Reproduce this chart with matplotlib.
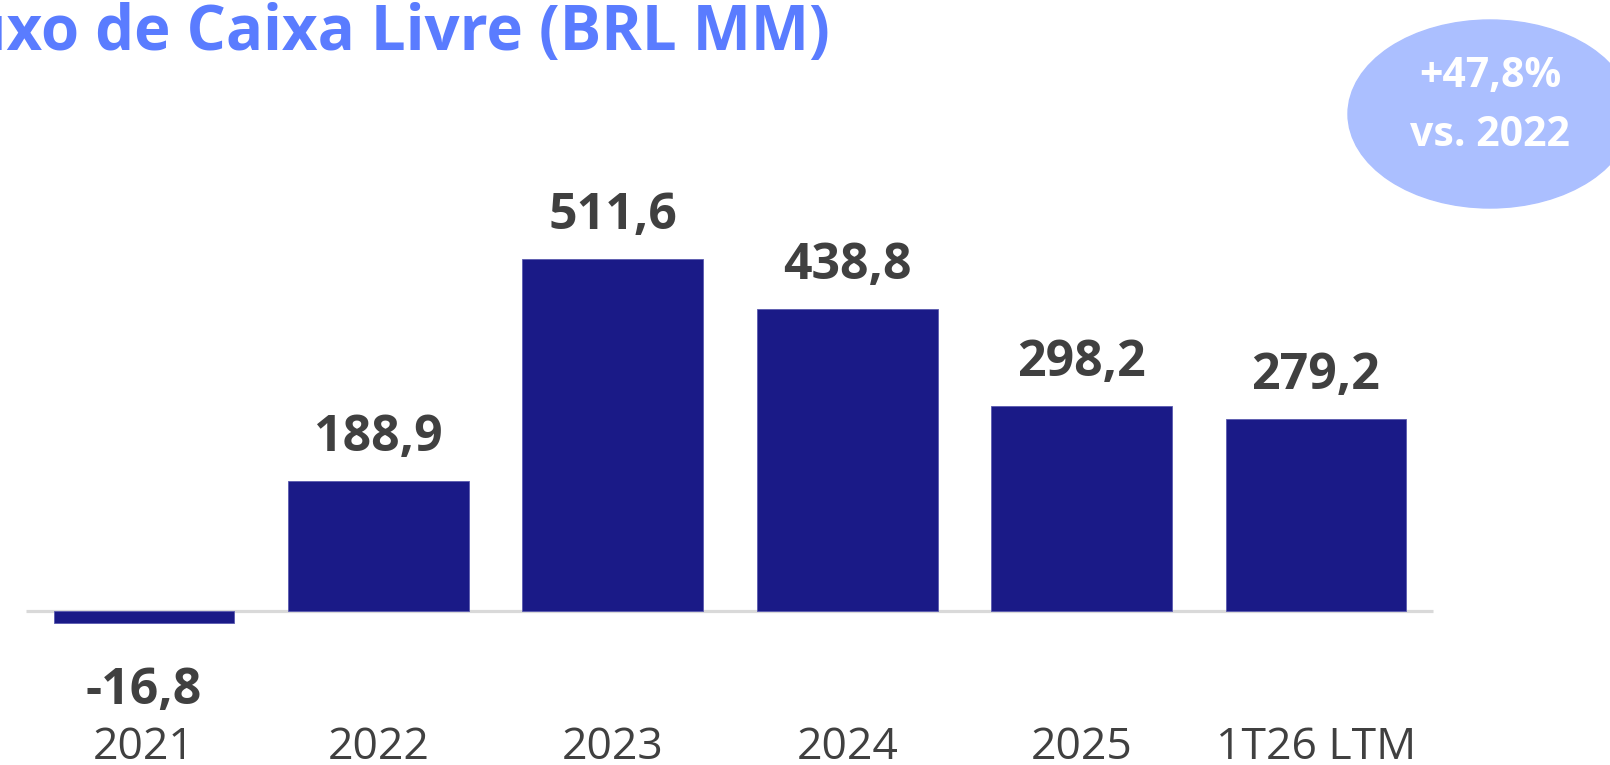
import numpy as np
import matplotlib
matplotlib.use('Agg')
import matplotlib.pyplot as plt
from matplotlib.patches import Ellipse
from matplotlib import rcParams
rcParams['font.family'] = ['Open Sans', 'DejaVu Sans']

categories = ['2021', '2022', '2023', '2024', '2025', '1T26 LTM']
values = [-16.8, 188.9, 511.6, 438.8, 298.2, 279.2]
title = 'Fluxo de Caixa Livre (BRL MM)'
badge = ['+47,8%', 'vs. 2022']

bar_color = '#1a1a87'
label_color = '#404040'

W, H = 1610, 765
fig = plt.figure(figsize=(W / 100, H / 100), dpi=100)
ax = fig.add_axes([0, 0, 1, 1])

# pixel layout -> data limits
step = 234.4     # px between bar centres
x0 = 144         # px of first bar centre
base = 154       # px of zero line from bottom
scale = 0.688    # px per BRL MM
ax.set_xlim(-x0 / step, (W - x0) / step)
ax.set_ylim(-base / scale, (H - base) / scale)
ax.axis('off')

ind = np.arange(len(categories))
ax.plot([-0.503, 5.499], [0, 0], color='#d9d9d9', lw=2.3, zorder=1,
        solid_capstyle='butt')
ax.bar(ind, values, 0.772, color=bar_color, edgecolor='#5a5ab0', lw=0.6, zorder=2)

for i, v in zip(ind, values):
    txt = f'{v:.1f}'.replace('.', ',')
    if v >= 0:
        ax.annotate(txt, (i, v), xytext=(0, 21.5), textcoords='offset points',
                    ha='center', va='baseline', fontsize=36, fontweight='bold',
                    color=label_color)
    else:
        ax.annotate(txt, (i, v), xytext=(0, -31), textcoords='offset points',
                    ha='center', va='top', fontsize=36, fontweight='bold',
                    color=label_color)
    ax.text(i, 6 / H, categories[i], transform=ax.get_xaxis_transform(),
            ha='center', va='baseline', fontsize=32, color=label_color)

fig.text(830 / W, 1 - 50 / H, title, ha='right', va='baseline', fontsize=44.5,
         fontweight='bold', color='#5a7cff')

ell = Ellipse((1490 / W, 1 - 114 / H), 284 / W, 188 / H,
              transform=fig.transFigure, color='#abbfff', zorder=0)
fig.patches.append(ell)
fig.text(1490 / W, 1 - 77 / H, badge[0], ha='center', va='center', fontsize=29.5,
         fontweight='bold', color='white')
fig.text(1490 / W, 1 - 135 / H, badge[1], ha='center', va='center', fontsize=29.5,
         fontweight='bold', color='white')

fig.savefig('out.png', dpi=100)
